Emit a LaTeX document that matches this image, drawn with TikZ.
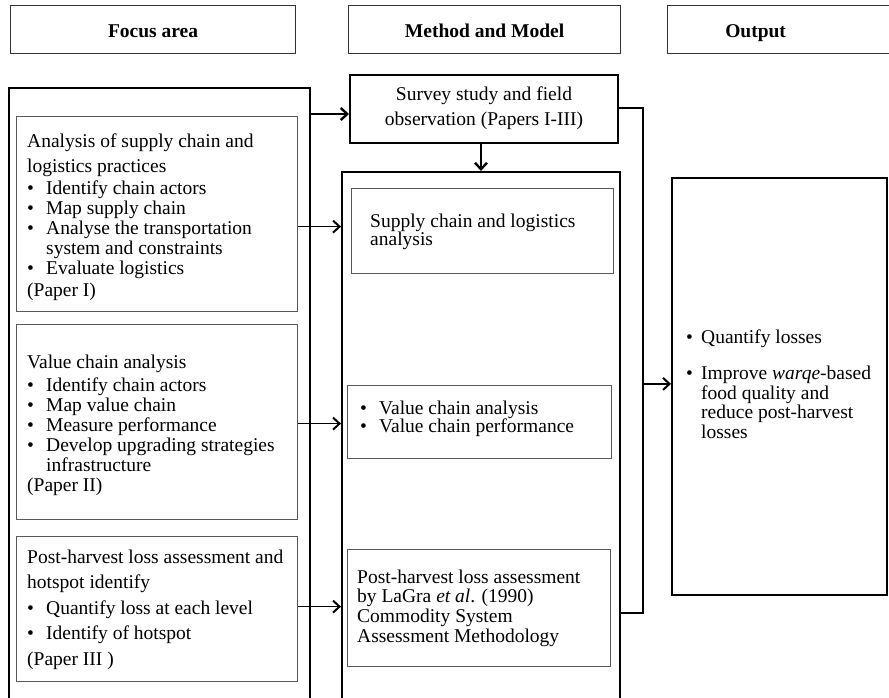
\documentclass[tikz,border=0pt]{standalone}
\usepackage{fontspec}
\setmainfont{Liberation Serif}
\usetikzlibrary{arrows.meta}

% bullet with a fixed hanging indent, and the matching indent for wrapped lines
\newcommand\bitem{\makebox[19pt][l]{\textbullet}}
\newcommand\bhang{\hspace*{19pt}}
% a left-aligned block whose reference point is the baseline of its first line
\newcommand\textblock[2]{\parbox[t]{300pt}{\raggedright\fontsize{19.5}{#1}\selectfont #2}}

\begin{document}
\begin{tikzpicture}[x=1pt,y=-1pt,
  headbox/.style={draw=black!80, line width=1.2pt, fill=white, inner sep=0pt, anchor=north west},
  headtext/.style={inner sep=0pt, text height=13.5pt, text depth=0pt,
    font=\fontsize{19.5}{22}\selectfont\bfseries},
  groupbox/.style={draw=black, line width=2pt, inner sep=0pt, anchor=north west},
  itembox/.style={draw=black!65, line width=1.2pt, fill=white, inner sep=0pt, anchor=north west},
  txt/.style={inner sep=0pt, anchor=base west},
  flow/.style={line width=1.6pt, -{Straight Barb[length=6.5pt,width=12pt,line width=2pt]}},
  bigflow/.style={line width=2.4pt, -{Straight Barb[length=6.5pt,width=12pt,line width=2.4pt]}},
  link/.style={line width=1.2pt}
]
\useasboundingbox (0,0) rectangle (889,697);
\clip (0,0) rectangle (889,697);

% column headings
\node[headbox, minimum width=285, minimum height=48] (h1) at (10,5) {};
\node[headtext] (h1t) at ([yshift=-1pt]h1.center) {Focus area};
\node[headbox, minimum width=272, minimum height=48] (h2) at (348,5) {};
\node[headtext] (h2t) at ([yshift=-1pt]h2.center) {Method and Model};
\node[headbox, minimum width=230, minimum height=48] (h3) at (667,5) {};
\node[headtext] (h3t) at ([xshift=-27pt,yshift=-1pt]h3.center) {Output};

% focus-area column
\node[groupbox, minimum width=301, minimum height=630] (L) at (8,87) {};
\node[itembox, minimum width=281, minimum height=195] (L1) at (16,116) {};
\node[itembox, minimum width=281, minimum height=195] (L2) at (16,324) {};
\node[itembox, minimum width=281, minimum height=145] (L3) at (16,536) {};

\node[txt] (t1) at (27,147) {\textblock{20pt}{%
  Analysis of supply chain and\\[5pt]
  logistics practices\\[2pt]
  \bitem Identify chain actors\\
  \bitem Map supply chain\\
  \bitem Analyse the transportation\\
  \bhang system and constraints\\
  \bitem Evaluate logistics\\[2pt]
  (Paper I)}};

\node[txt] (t2) at (27,368) {\textblock{20pt}{%
  Value chain analysis\\[3pt]
  \bitem Identify chain actors\\
  \bitem Map value chain\\
  \bitem Measure performance\\
  \bitem Develop upgrading strategies\\
  \bhang infrastructure\\
  (Paper II)}};

\node[txt] (t3) at (27,563) {\textblock{25.5pt}{%
  Post-harvest loss assessment and\\
  hotspot identify\\
  \bitem Quantify loss at each level\\
  \bitem Identify of hotspot\\
  (Paper III )}};

% method column
\node[groupbox, fill=white, minimum width=268, minimum height=68] (S) at (349,74) {};
\node[align=center, font=\fontsize{19.5}{25}\selectfont] (st) at ([yshift=1pt]S.center)
  {Survey study and field\\observation (Papers I-III)};

\node[groupbox, minimum width=278, minimum height=560] (M) at (341,171) {};
\node[itembox, minimum width=262, minimum height=85] (M1) at (351,188) {};
\node[itembox, minimum width=264, minimum height=73] (M2) at (347,385) {};
\node[itembox, minimum width=263, minimum height=117] (M3) at (347,549) {};

\node[txt] (m1) at (370,227) {\textblock{18pt}{%
  Supply chain and logistics\\
  analysis}};
\node[txt] (m2) at (360,414) {\textblock{18pt}{%
  \bitem Value chain analysis\\
  \bitem Value chain performance}};
\node[txt] (m3) at (357,583) {\textblock{19.7pt}{%
  Post-harvest loss assessment\\
  by LaGra \textit{et al}. (1990)\\
  Commodity System\\
  Assessment Methodology}};

% output column
\node[draw=black, line width=1.8pt, inner sep=0pt, anchor=north west,
  minimum width=215, minimum height=417] (O) at (671,177) {};
\node[txt] (o1) at (686,343) {\textblock{19.5pt}{%
  \makebox[15pt][l]{\textbullet}Quantify losses\\[17pt]
  \makebox[15pt][l]{\textbullet}Improve \textit{warqe}-based\\
  \hspace*{15pt}food quality and\\
  \hspace*{15pt}reduce post-harvest\\
  \hspace*{15pt}losses}};

% connectors
\draw[bigflow] ([yshift=-5pt]S.west -| L.east) -- ([yshift=-5pt]S.west);
\draw[bigflow] ([xshift=-3pt]S.south) -- ([xshift=-3pt]S.south |- M.north);
\draw[flow] ([yshift=-12.5pt]L1.east) -- ([yshift=-12.5pt]L1.east -| M.west);
\draw[flow] ([yshift=-1.5pt]L2.east) -- ([yshift=-1.5pt]L2.east -| M.west);
\draw[flow] ([yshift=2.5pt]L3.east) -- ([yshift=2.5pt]L3.east -| M.west);

\coordinate (J) at (643,613);
\draw[link] ([yshift=1pt]S.east) -| (J) -- (J -| M.east);
\draw[flow] ([yshift=2.5pt]O.west -| J) -- ([yshift=2.5pt]O.west);
\end{tikzpicture}
\end{document}
